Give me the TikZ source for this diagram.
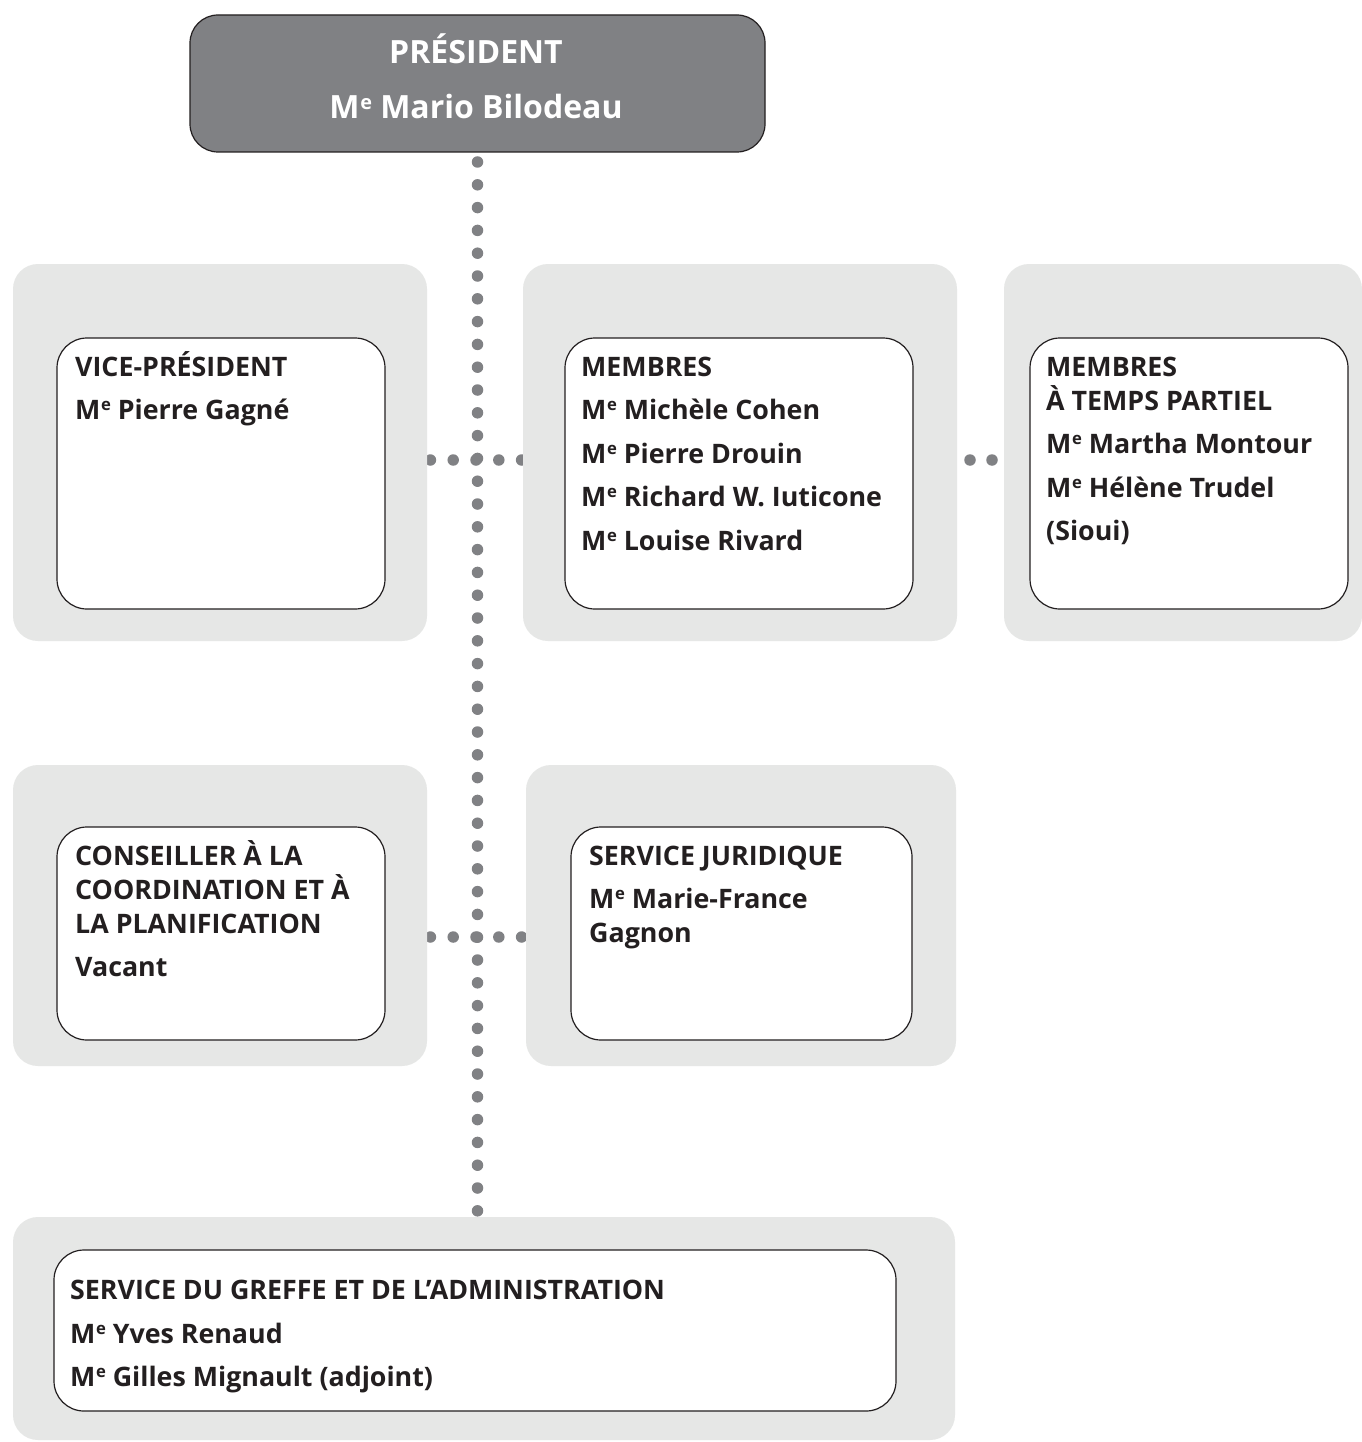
\documentclass[tikz,border=0pt]{standalone}
\usepackage{fontspec}
\setmainfont{Open Sans}
\definecolor{bggray}{HTML}{E6E7E6}
\definecolor{darkfill}{HTML}{808184}
\definecolor{dotgray}{HTML}{808184}
\definecolor{txtblack}{HTML}{231F20}
\newcommand{\Maitre}{M\hspace{0.02em}\raisebox{0.3em}{\scalebox{0.62}{e}}}
\pgfdeclarelayer{bottom}
\pgfdeclarelayer{background}
\pgfsetlayers{bottom,background,main}
\begin{document}
\begin{tikzpicture}[x=1pt,y=-1pt,
  bgbox/.style={fill=bggray, draw=none, rounded corners=25pt, anchor=north west, outer sep=0pt, inner sep=0pt},
  wbox/.style={fill=white, draw=txtblack, line width=1.2pt, rounded corners=30pt, anchor=north west, outer sep=0pt, inner sep=0pt},
  dotline/.style={draw=dotgray, line width=11.5pt, line cap=round, dash pattern=on 0pt off 22.8pt},
  txt/.style={font=\bfseries\fontsize{26.8}{30}\selectfont, anchor=base west, inner sep=0pt, text=txtblack},
  ptxt/.style={font=\bfseries\fontsize{32}{36}\selectfont, anchor=base, inner sep=0pt, text=white}]
\useasboundingbox (0,0) rectangle (1361,1442);
\begin{pgfonlayer}{bottom}
\fill[white] (0,0) rectangle (1361,1442);
\end{pgfonlayer}

% President
\node[fill=darkfill, draw=txtblack, line width=1.2pt, rounded corners=28pt, anchor=north west, outer sep=0pt, inner sep=0pt, minimum width=575pt, minimum height=137pt] (pres) at (190,15) {};
\node[ptxt] (pres1) at (476,64) {PRÉSIDENT};
\node[ptxt] (pres2) at (476,119) {\Maitre{} Mario Bilodeau};

% Row 1 backgrounds
\node[bgbox, minimum width=414pt, minimum height=377pt] (gA) at (13,264) {};
\node[bgbox, minimum width=434pt, minimum height=377pt] (gB) at (523,264) {};
\node[bgbox, minimum width=358pt, minimum height=377pt] (gC) at (1004,264) {};
% Row 1 white boxes
\node[wbox, minimum width=328pt, minimum height=271pt] (wA) at (57,338) {};
\node[wbox, minimum width=348pt, minimum height=271pt] (wB) at (565,338) {};
\node[wbox, minimum width=318pt, minimum height=271pt] (wC) at (1030,338) {};

\node[txt] (vp1) at (75,376) {VICE-PRÉSIDENT};
\node[txt] (vp2) at (75,419) {\Maitre{} Pierre Gagné};

\node[txt] (m1) at (581,376) {MEMBRES};
\node[txt] (m2) at (581,419) {\Maitre{} Michèle Cohen};
\node[txt] (m3) at (581,463) {\Maitre{} Pierre Drouin};
\node[txt] (m4) at (581,506) {\Maitre{} Richard W. Iuticone};
\node[txt] (m5) at (581,550) {\Maitre{} Louise Rivard};

\node[txt] (p1) at (1046,376) {MEMBRES};
\node[txt] (p2) at (1046,410) {À TEMPS PARTIEL};
\node[txt] (p3) at (1046,453) {\Maitre{} Martha Montour};
\node[txt] (p4) at (1046,497) {\Maitre{} Hélène Trudel};
\node[txt] (p5) at (1046,540) {(Sioui)};

% Row 2
\node[bgbox, minimum width=414pt, minimum height=301pt] (gD) at (13,765) {};
\node[bgbox, minimum width=430pt, minimum height=301pt] (gE) at (526,765) {};
\node[wbox, minimum width=328pt, minimum height=213pt] (wD) at (57,827) {};
\node[wbox, minimum width=341pt, minimum height=213pt] (wE) at (571,827) {};

\node[txt] (c1) at (75,865) {CONSEILLER À LA};
\node[txt] (c2) at (75,899) {COORDINATION ET À};
\node[txt] (c3) at (75,933) {LA PLANIFICATION};
\node[txt] (c4) at (75,976) {Vacant};

\node[txt] (s1) at (589,865) {SERVICE JURIDIQUE};
\node[txt] (s2) at (589,908) {\Maitre{} Marie-France};
\node[txt] (s3) at (589,942) {Gagnon};

% Row 3
\node[bgbox, minimum width=942pt, minimum height=223pt] (gF) at (13,1217) {};
\node[wbox, minimum width=842pt, minimum height=161pt] (wF) at (54,1250) {};
\node[txt] (g1) at (70,1299) {SERVICE DU GREFFE ET DE L’ADMINISTRATION};
\node[txt] (g2) at (70,1343) {\Maitre{} Yves Renaud};
\node[txt] (g3) at (70,1386) {\Maitre{} Gilles Mignault (adjoint)};

% Connectors
\begin{pgfonlayer}{background}
\draw[dotline, dash phase=12.8pt] (pres.south) -- (gF.north -| pres.south);
\draw[dotline, dash phase=19.4pt] (gA.east |- 0,460) -- (gB.west |- 0,460);
\draw[dotline, dash pattern=on 0pt off 22pt, dash phase=9pt] (gB.east |- 0,460) -- (gC.west |- 0,460);
\draw[dotline, dash phase=19.4pt] (gD.east |- 0,937) -- (gE.west |- 0,937);
\end{pgfonlayer}
\end{tikzpicture}
\end{document}
